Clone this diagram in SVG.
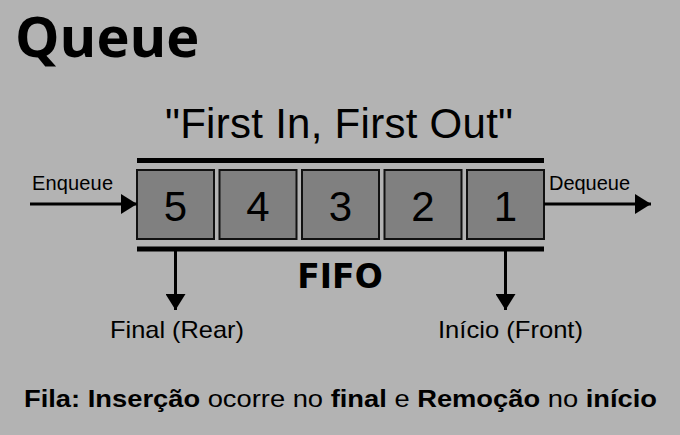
<svg xmlns="http://www.w3.org/2000/svg" width="680" height="435" viewBox="0 0 680 435">
<defs>
<style>
.t{font-family:"Liberation Sans",Arial,sans-serif;fill:#000}
.box{fill:#808080;stroke:#111;stroke-width:2}
.num{font-family:"Liberation Sans",Arial,sans-serif;font-size:42px;text-anchor:middle;fill:#000}
.ln{stroke:#000;stroke-width:3;fill:none}
.bar{stroke:#000;stroke-width:5}
</style>
<marker id="ah" viewBox="0 0 16 20" refX="16" refY="10" markerWidth="16" markerHeight="20" markerUnits="userSpaceOnUse" orient="auto">
<path d="M0,0 L16,10 L0,20 Z" fill="#000"/>
</marker>
</defs>
<rect width="680" height="435" fill="#b3b3b3"/>
<text x="15" y="57" font-family="'Open Sans','DejaVu Sans',sans-serif" font-weight="700" font-size="56">Queue</text>
<text class="t" x="339" y="138" font-size="42" text-anchor="middle" textLength="348">"First In, First Out"</text>
<g id="bars">
<line class="bar" x1="137" y1="160.5" x2="544" y2="160.5"/>
<line class="bar" x1="137" y1="249" x2="544" y2="249"/>
</g>
<g id="n5"><rect class="box" x="137" y="170" width="77" height="69"/><text class="num" x="175.5" y="221">5</text></g>
<g id="n4"><rect class="box" x="219.5" y="170" width="77" height="69"/><text class="num" x="258" y="221">4</text></g>
<g id="n3"><rect class="box" x="302" y="170" width="77" height="69"/><text class="num" x="340.5" y="221">3</text></g>
<g id="n2"><rect class="box" x="384.5" y="170" width="77" height="69"/><text class="num" x="423" y="221">2</text></g>
<g id="n1"><rect class="box" x="467" y="170" width="77" height="69"/><text class="num" x="505.5" y="221">1</text></g>
<g id="connectors">
<line class="ln" x1="30" y1="204" x2="137" y2="204" marker-end="url(#ah)"/>
<line class="ln" x1="544" y1="204" x2="651" y2="204" marker-end="url(#ah)"/>
<line class="ln" x1="175.5" y1="251" x2="175.5" y2="310" marker-end="url(#ah)"/>
<line class="ln" x1="505.5" y1="251" x2="505.5" y2="310" marker-end="url(#ah)"/>
</g>
<text class="t" x="32" y="190" font-size="20" textLength="81">Enqueue</text>
<text class="t" x="549" y="190" font-size="20" textLength="81">Dequeue</text>
<text x="340" y="288" font-family="'DejaVu Sans',sans-serif" font-weight="700" font-size="33" text-anchor="middle">FIFO</text>
<text class="t" x="110" y="338" font-size="24" textLength="134" lengthAdjust="spacingAndGlyphs">Final (Rear)</text>
<text class="t" x="438" y="338" font-size="24" textLength="145" lengthAdjust="spacingAndGlyphs">Início (Front)</text>
<text class="t" x="340.5" y="407" font-size="24" text-anchor="middle" textLength="633" lengthAdjust="spacingAndGlyphs"><tspan font-weight="700">Fila: Inserção</tspan> ocorre no <tspan font-weight="700">final</tspan> e <tspan font-weight="700">Remoção</tspan> no <tspan font-weight="700">início</tspan></text>
</svg>
